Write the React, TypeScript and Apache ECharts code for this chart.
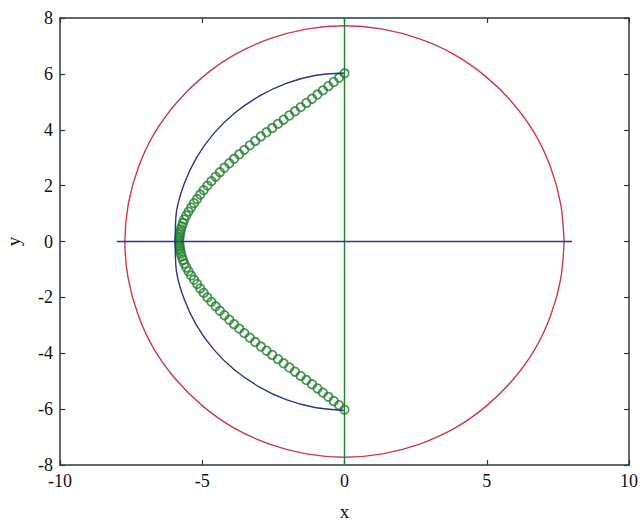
import React, { useEffect, useRef } from "react";
import * as echarts from "echarts";

const xTicks = [-10, -5, 0, 5, 10];
const yTicks = [-8, -6, -4, -2, 0, 2, 4, 6, 8];

const redCircleX = [7.72, 7.6, 7.25, 6.69, 5.91, 4.96, 3.86, 2.64, 1.34, 0, -1.34, -2.64, -3.86, -4.96, -5.91, -6.69, -7.25, -7.6, -7.72, -7.6, -7.25, -6.69, -5.91, -4.96, -3.86, -2.64, -1.34, 0, 1.34, 2.64, 3.86, 4.96, 5.91, 6.69, 7.25, 7.6, 7.72];
const redCircleY = [0, 1.34, 2.64, 3.86, 4.96, 5.91, 6.69, 7.25, 7.6, 7.72, 7.6, 7.25, 6.69, 5.91, 4.96, 3.86, 2.64, 1.34, 0, -1.34, -2.64, -3.86, -4.96, -5.91, -6.69, -7.25, -7.6, -7.72, -7.6, -7.25, -6.69, -5.91, -4.96, -3.86, -2.64, -1.34, 0];

const blueCurveX = [0, -1.04, -2.05, -3.0, -3.86, -4.6, -5.2, -5.64, -5.91, -5.95, -5.91, -5.64, -5.2, -4.6, -3.86, -3.0, -2.05, -1.04, 0];
const blueCurveY = [6.03, 5.94, 5.66, 5.2, 4.6, 3.86, 3.0, 2.05, 1.04, 0, -1.04, -2.05, -3.0, -3.86, -4.6, -5.2, -5.66, -5.94, -6.05];

const horizontalLineX = [-8, 8];
const horizontalLineY = [0, 0];
const verticalLineX = [0, 0];
const verticalLineY = [-8, 8];

const greenUpperX = [0.0, -0.19, -0.38, -0.57, -0.76, -0.95, -1.14, -1.34, -1.54, -1.74, -1.94, -2.14, -2.34, -2.54, -2.74, -2.94, -3.14, -3.33, -3.52, -3.7, -3.88, -4.05, -4.22, -4.38, -4.53, -4.68, -4.82, -4.95, -5.07, -5.18, -5.29, -5.39, -5.48, -5.56, -5.63, -5.68, -5.72, -5.75, -5.77, -5.79, -5.8, -5.81, -5.81];
const greenUpperY = [6.02, 5.86, 5.71, 5.56, 5.41, 5.26, 5.11, 4.96, 4.81, 4.66, 4.51, 4.36, 4.21, 4.06, 3.91, 3.76, 3.6, 3.44, 3.28, 3.12, 2.96, 2.8, 2.64, 2.48, 2.32, 2.16, 2.0, 1.84, 1.68, 1.52, 1.37, 1.22, 1.07, 0.93, 0.79, 0.66, 0.54, 0.43, 0.33, 0.24, 0.16, 0.08, 0.0];
const greenLowerX = [-5.81, -5.8, -5.79, -5.77, -5.75, -5.72, -5.68, -5.63, -5.56, -5.48, -5.39, -5.29, -5.18, -5.07, -4.95, -4.82, -4.68, -4.53, -4.38, -4.22, -4.05, -3.88, -3.7, -3.52, -3.33, -3.14, -2.94, -2.74, -2.54, -2.34, -2.14, -1.94, -1.74, -1.54, -1.34, -1.14, -0.95, -0.76, -0.57, -0.38, -0.19, 0.0];
const greenLowerY = [-0.08, -0.16, -0.24, -0.33, -0.43, -0.54, -0.66, -0.79, -0.93, -1.07, -1.22, -1.37, -1.52, -1.68, -1.84, -2.0, -2.16, -2.32, -2.48, -2.64, -2.8, -2.96, -3.12, -3.28, -3.44, -3.6, -3.76, -3.91, -4.06, -4.21, -4.36, -4.51, -4.66, -4.81, -4.96, -5.11, -5.26, -5.41, -5.56, -5.71, -5.86, -6.02];

const zip = (xs: number[], ys: number[]) => xs.map((x, i) => [x, ys[i]]);

const FONT = "'Liberation Serif', 'Times New Roman', Times, serif";
const AXIS_COLOR = "#2c3840";
const RED = "#c93a50";
const BLUE = "#2c3392";
const GREEN = "#237f2e";

export default function App() {
  const ref = useRef<HTMLDivElement>(null);
  useEffect(() => {
    if (!ref.current) return;
    const chart = echarts.init(ref.current, null, { renderer: "svg" });
    const axisCommon = {
      type: "value" as const,
      axisLine: { show: true, onZero: false, lineStyle: { color: AXIS_COLOR, width: 1.5 } },
      axisTick: { show: true, inside: true, length: 5, lineStyle: { color: AXIS_COLOR, width: 1.2 } },
      splitLine: { show: false },
    };
    chart.setOption({
      animation: false,
      backgroundColor: "#ffffff",
      grid: { left: 60, right: 11, top: 18, bottom: 63, containLabel: false, outerBoundsMode: "none" },
      xAxis: [
        {
          ...axisCommon,
          position: "bottom",
          min: xTicks[0],
          max: xTicks[xTicks.length - 1],
          interval: 5,
          name: "x",
          nameLocation: "middle",
          nameGap: 37,
          nameTextStyle: { fontFamily: FONT, fontSize: 19, color: "#111" },
          axisLabel: { fontFamily: FONT, fontSize: 18, color: "#111", margin: 7 },
        },
        {
          ...axisCommon,
          position: "top",
          min: xTicks[0],
          max: xTicks[xTicks.length - 1],
          interval: 5,
          axisLabel: { show: false },
        },
      ],
      yAxis: [
        {
          ...axisCommon,
          position: "left",
          min: yTicks[0],
          max: yTicks[yTicks.length - 1],
          interval: 2,
          name: "y",
          nameLocation: "middle",
          nameGap: 37,
          nameTextStyle: { fontFamily: FONT, fontSize: 19, color: "#111" },
          axisLabel: { fontFamily: FONT, fontSize: 18, color: "#111", margin: 7 },
        },
        {
          ...axisCommon,
          position: "right",
          min: yTicks[0],
          max: yTicks[yTicks.length - 1],
          interval: 2,
          axisLabel: { show: false },
        },
      ],
      series: [
        {
          type: "line",
          data: zip(redCircleX, redCircleY),
          showSymbol: false,
          smooth: 0.3,
          lineStyle: { color: RED, width: 1.4 },
          silent: true,
        },
        {
          type: "scatter",
          data: zip(greenUpperX, greenUpperY).concat(zip(greenLowerX, greenLowerY)),
          symbol: "circle",
          symbolSize: 8.5,
          itemStyle: { color: "rgba(255,255,255,0)", borderColor: GREEN, borderWidth: 1.8 },
          silent: true,
        },
        {
          type: "line",
          data: zip(blueCurveX, blueCurveY),
          showSymbol: false,
          smooth: 0.3,
          lineStyle: { color: BLUE, width: 1.4 },
          silent: true,
        },
        {
          type: "line",
          data: zip(verticalLineX, verticalLineY),
          showSymbol: false,
          lineStyle: { color: GREEN, width: 1.4 },
          silent: true,
        },
        {
          type: "line",
          data: zip(horizontalLineX, horizontalLineY),
          showSymbol: false,
          lineStyle: { color: BLUE, width: 1.4 },
          silent: true,
        },
      ],
    });
    return () => chart.dispose();
  }, []);
  return <div ref={ref} style={{ position: "fixed", left: 0, top: 0, width: 640, height: 528 }} />;
}
